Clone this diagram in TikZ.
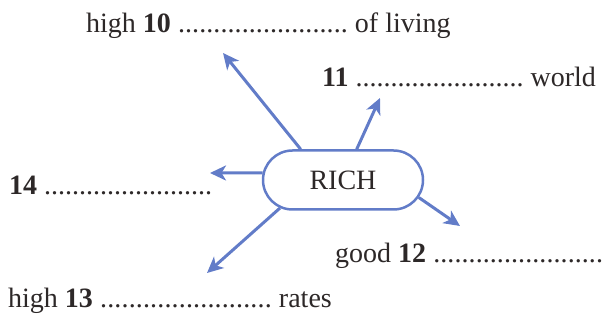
\documentclass[tikz,border=0pt]{standalone}
\usepackage{fontspec}
\setmainfont{Liberation Serif}
\usetikzlibrary{arrows.meta,shapes.misc}
\definecolor{arrblue}{RGB}{98,124,200}
\definecolor{ink}{RGB}{45,40,40}
\newcommand\dotrule[1]{\hbox to #1{\xleaders\hbox to 6.9pt{\hss.\hss}\hfill}}
\begin{document}
\begin{tikzpicture}[x=1pt,y=-1pt,
  lbl/.style={anchor=base west,inner sep=0pt,text=ink,font=\fontsize{28}{30}\selectfont},
  arr/.style={draw=arrblue,line width=3pt,-{Stealth[length=16pt,width=15pt,inset=4.5pt]}},
  hub/.style={rounded rectangle,draw=arrblue,line width=2.5pt,minimum width=160pt,minimum height=59pt,inner sep=0pt,text=ink,font=\fontsize{28}{30}\selectfont}]
\useasboundingbox (0,0) rectangle (603,320);
\node[hub] (rich) at (343,180) {RICH};
\node[lbl] (l10) at (86,33) {high \textbf{10} \dotrule{170pt} of living};
\node[lbl] (l11) at (322,87) {\textbf{11} \dotrule{168pt} world};
\node[lbl] (l14) at (9,195) {\textbf{14} \dotrule{168pt}};
\node[lbl] (l12) at (335,263) {good \textbf{12} \dotrule{170pt}};
\node[lbl] (l13) at (8,308) {high \textbf{13} \dotrule{172pt} rates};
\coordinate (t10) at (223,53);
\coordinate (t11) at (380,98);
\coordinate (t14) at (210,173);
\coordinate (t12) at (460,226);
\coordinate (t13) at (207,273);
\draw[arr] (rich.144) -- (t10);
\draw[arr] (rich.66) -- (t11);
\draw[arr] (rich.175) -- (t14);
\draw[arr] (rich.-13) -- (t12);
\draw[arr] (rich.204) -- (t13);
\end{tikzpicture}
\end{document}
